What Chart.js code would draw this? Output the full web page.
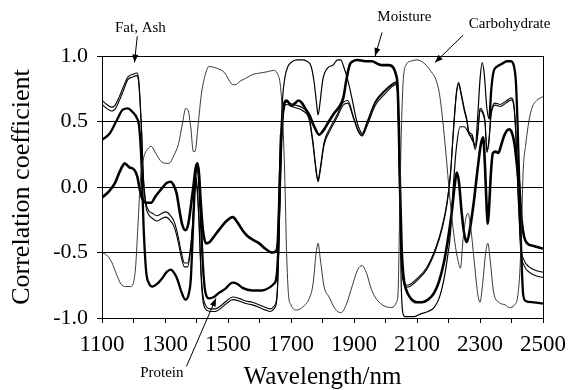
<!DOCTYPE html>
<html>
<head>
<meta charset="utf-8">
<script src="https://cdn.jsdelivr.net/npm/chart.js@4.4.1/dist/chart.umd.min.js"></script>
<style>
  html, body { margin: 0; padding: 0; background: #fff; }
  #wrap { width: 574px; height: 390px; position: relative; }
</style>
</head>
<body>
<div id="wrap"><canvas id="chart"></canvas></div>
<script>
// [wavelength nm, correlation coefficient]
const carbohydrate = [[1100,-0.50],[1115,-0.52],[1130,-0.57],[1145,-0.66],[1160,-0.74],[1175,-0.76],[1190,-0.76],[1200,-0.73],[1207,-0.6],[1214,-0.3],[1222,0.05],[1232,0.22],[1245,0.29],[1256,0.31],[1270,0.26],[1290,0.19],[1312,0.18],[1330,0.25],[1343,0.33],[1355,0.48],[1366,0.6],[1374,0.58],[1382,0.45],[1390,0.27],[1395,0.27],[1405,0.47],[1415,0.7],[1427,0.85],[1440,0.92],[1460,0.91],[1490,0.87],[1510,0.79],[1522,0.78],[1540,0.81],[1556,0.83],[1580,0.86],[1602,0.87],[1625,0.88],[1645,0.89],[1658,0.86],[1666,0.78],[1673,0.55],[1680,0.1],[1686,-0.5],[1692,-0.82],[1700,-0.9],[1717,-0.94],[1740,-0.91],[1758,-0.85],[1770,-0.74],[1780,-0.5],[1786,-0.43],[1793,-0.55],[1805,-0.76],[1821,-0.84],[1840,-0.93],[1858,-0.96],[1875,-0.9],[1895,-0.75],[1912,-0.63],[1926,-0.6],[1940,-0.66],[1955,-0.78],[1967,-0.84],[1990,-0.9],[2020,-0.92],[2035,-0.88],[2040,-0.8],[2045,-0.2],[2050,0.4],[2056,0.8],[2065,0.93],[2080,0.96],[2100,0.97],[2125,0.94],[2145,0.88],[2160,0.82],[2172,0.7],[2182,0.5],[2191,0.28],[2205,-0.1],[2220,-0.42],[2230,-0.56],[2238,-0.62],[2246,-0.4],[2255,-0.24],[2262,-0.2],[2270,-0.3],[2283,-0.6],[2293,-0.82],[2300,-0.88],[2308,-0.75],[2318,-0.5],[2325,-0.43],[2332,-0.55],[2343,-0.8],[2360,-0.88],[2380,-0.9],[2393,-0.92],[2410,-0.9],[2420,-0.83],[2427,-0.62],[2433,-0.2],[2437,0.12],[2445,0.32],[2455,0.5],[2466,0.61],[2480,0.66],[2500,0.69]]

const fat = [[1100,0.66],[1115,0.63],[1130,0.61],[1140,0.62],[1155,0.69],[1167,0.76],[1182,0.84],[1198,0.86],[1210,0.87],[1216,0.83],[1221,0.66],[1226,0.42],[1231,0.1],[1238,-0.1],[1248,-0.18],[1260,-0.2],[1275,-0.22],[1290,-0.2],[1303,-0.19],[1318,-0.22],[1330,-0.27],[1342,-0.38],[1352,-0.5],[1362,-0.58],[1372,-0.58],[1380,-0.48],[1387,-0.3],[1393,-0.05],[1398,0.08],[1402,0.0],[1408,-0.25],[1414,-0.62],[1420,-0.82],[1428,-0.9],[1443,-0.93],[1460,-0.93],[1475,-0.91],[1495,-0.87],[1515,-0.84],[1535,-0.85],[1556,-0.87],[1577,-0.88],[1600,-0.9],[1620,-0.92],[1635,-0.93],[1646,-0.91],[1655,-0.84],[1661,-0.48],[1665,0.0],[1670,0.4],[1678,0.62],[1686,0.65],[1707,0.63],[1739,0.6],[1758,0.53],[1770,0.34],[1780,0.13],[1786,0.05],[1792,0.13],[1805,0.34],[1826,0.46],[1848,0.56],[1864,0.64],[1880,0.66],[1899,0.53],[1914,0.43],[1926,0.4],[1942,0.49],[1967,0.64],[1998,0.73],[2023,0.78],[2032,0.79],[2038,0.74],[2042,0.41],[2045,0.03],[2050,-0.5],[2056,-0.7],[2066,-0.75],[2080,-0.74],[2100,-0.7],[2132,-0.61],[2160,-0.46],[2180,-0.3],[2195,-0.12],[2206,0.1],[2216,0.45],[2225,0.72],[2232,0.8],[2240,0.72],[2250,0.6],[2258,0.52],[2265,0.42],[2275,0.4],[2285,0.3],[2293,0.42],[2300,0.6],[2308,0.58],[2316,0.5],[2322,0.28],[2328,0.35],[2335,0.56],[2347,0.64],[2365,0.63],[2385,0.66],[2400,0.68],[2408,0.62],[2414,0.4],[2420,0.0],[2425,-0.25],[2430,-0.46],[2440,-0.56],[2456,-0.61],[2480,-0.64],[2500,-0.65]]

const ash = [[1100,0.63],[1115,0.6],[1130,0.58],[1140,0.59],[1155,0.66],[1167,0.73],[1182,0.82],[1198,0.84],[1210,0.85],[1216,0.81],[1221,0.64],[1226,0.4],[1231,0.08],[1238,-0.13],[1248,-0.21],[1260,-0.24],[1275,-0.26],[1290,-0.24],[1303,-0.23],[1318,-0.26],[1330,-0.31],[1342,-0.42],[1352,-0.54],[1362,-0.61],[1372,-0.61],[1380,-0.5],[1387,-0.32],[1393,-0.07],[1398,0.06],[1402,-0.02],[1408,-0.28],[1414,-0.66],[1420,-0.86],[1428,-0.93],[1443,-0.95],[1460,-0.95],[1475,-0.93],[1495,-0.89],[1515,-0.86],[1535,-0.87],[1556,-0.89],[1577,-0.9],[1600,-0.92],[1620,-0.94],[1635,-0.95],[1646,-0.93],[1655,-0.86],[1661,-0.5],[1665,-0.02],[1670,0.38],[1678,0.6],[1686,0.63],[1707,0.61],[1739,0.58],[1758,0.51],[1770,0.32],[1780,0.11],[1786,0.04],[1792,0.11],[1805,0.32],[1826,0.44],[1848,0.54],[1864,0.62],[1880,0.64],[1899,0.52],[1914,0.42],[1926,0.39],[1942,0.47],[1967,0.62],[1998,0.71],[2023,0.77],[2032,0.78],[2038,0.73],[2042,0.4],[2045,0.02],[2050,-0.51],[2056,-0.715],[2066,-0.765],[2080,-0.755],[2100,-0.715],[2132,-0.625],[2160,-0.475],[2180,-0.315],[2195,-0.135],[2206,0.085],[2216,0.435],[2225,0.705],[2232,0.785],[2240,0.705],[2250,0.585],[2258,0.505],[2265,0.405],[2275,0.385],[2285,0.285],[2293,0.405],[2300,0.585],[2308,0.565],[2316,0.485],[2322,0.265],[2328,0.335],[2335,0.545],[2347,0.625],[2365,0.615],[2385,0.645],[2400,0.665],[2408,0.605],[2414,0.385],[2420,-0.02],[2425,-0.28],[2430,-0.5],[2440,-0.6],[2456,-0.65],[2480,-0.68],[2500,-0.69]]

const protein = [[1100,0.36],[1125,0.41],[1147,0.51],[1166,0.59],[1182,0.6],[1198,0.57],[1210,0.53],[1218,0.46],[1225,0.2],[1232,-0.3],[1240,-0.64],[1250,-0.74],[1260,-0.76],[1275,-0.74],[1290,-0.7],[1305,-0.65],[1318,-0.63],[1330,-0.66],[1340,-0.71],[1352,-0.8],[1365,-0.86],[1375,-0.82],[1382,-0.7],[1390,-0.25],[1397,0.1],[1403,0.18],[1408,0.05],[1413,-0.2],[1420,-0.58],[1428,-0.8],[1440,-0.85],[1455,-0.84],[1470,-0.81],[1490,-0.78],[1515,-0.73],[1530,-0.74],[1546,-0.77],[1577,-0.79],[1608,-0.79],[1630,-0.77],[1645,-0.74],[1653,-0.7],[1659,-0.5],[1664,0.0],[1668,0.4],[1674,0.7],[1681,0.84],[1690,0.92],[1700,0.95],[1718,0.97],[1735,0.97],[1750,0.96],[1764,0.92],[1774,0.79],[1781,0.64],[1786,0.55],[1792,0.64],[1801,0.82],[1817,0.91],[1833,0.93],[1848,0.97],[1858,0.97],[1867,0.92],[1880,0.82],[1895,0.66],[1906,0.53],[1914,0.46],[1926,0.41],[1942,0.5],[1967,0.65],[1998,0.74],[2023,0.79],[2032,0.8],[2038,0.75],[2042,0.4],[2046,-0.2],[2050,-0.75],[2055,-0.96],[2062,-0.99],[2090,-0.99],[2110,-0.97],[2135,-0.95],[2154,-0.92],[2170,-0.85],[2185,-0.71],[2196,-0.55],[2206,-0.36],[2215,0.0],[2225,0.3],[2237,0.46],[2250,0.46],[2262,0.42],[2275,0.36],[2285,0.32],[2293,0.55],[2300,0.82],[2307,0.95],[2314,0.85],[2321,0.62],[2329,0.52],[2336,0.75],[2343,0.88],[2355,0.92],[2370,0.94],[2385,0.96],[2398,0.96],[2408,0.92],[2414,0.8],[2419,0.5],[2425,0.0],[2431,-0.5],[2437,-0.82],[2445,-0.87],[2470,-0.88],[2500,-0.89]]

const moisture = [[1100,-0.08],[1120,-0.04],[1141,0.03],[1155,0.11],[1165,0.16],[1172,0.18],[1187,0.15],[1203,0.13],[1212,0.08],[1220,-0.02],[1228,-0.09],[1240,-0.12],[1256,-0.12],[1270,-0.07],[1287,-0.02],[1305,0.03],[1318,0.04],[1328,0.01],[1337,-0.05],[1346,-0.18],[1355,-0.29],[1365,-0.33],[1374,-0.28],[1382,-0.15],[1390,0.0],[1397,0.14],[1403,0.18],[1408,0.1],[1413,-0.1],[1420,-0.32],[1430,-0.43],[1442,-0.42],[1458,-0.37],[1474,-0.32],[1495,-0.26],[1515,-0.23],[1530,-0.27],[1546,-0.33],[1560,-0.37],[1577,-0.4],[1599,-0.43],[1618,-0.47],[1640,-0.5],[1652,-0.49],[1658,-0.42],[1663,-0.1],[1668,0.3],[1675,0.58],[1686,0.66],[1701,0.62],[1713,0.64],[1724,0.66],[1735,0.64],[1745,0.6],[1758,0.55],[1774,0.46],[1789,0.4],[1805,0.44],[1820,0.5],[1836,0.56],[1855,0.62],[1866,0.68],[1876,0.82],[1886,0.93],[1897,0.96],[1910,0.97],[1936,0.96],[1957,0.96],[1975,0.94],[1989,0.93],[2010,0.93],[2025,0.91],[2033,0.86],[2038,0.78],[2042,0.5],[2046,0.0],[2051,-0.45],[2057,-0.68],[2065,-0.78],[2080,-0.85],[2100,-0.88],[2115,-0.88],[2135,-0.86],[2154,-0.81],[2170,-0.72],[2185,-0.58],[2197,-0.42],[2210,-0.2],[2220,0.02],[2226,0.11],[2233,0.04],[2242,-0.2],[2250,-0.36],[2258,-0.42],[2268,-0.32],[2280,-0.12],[2293,0.15],[2303,0.33],[2310,0.38],[2316,0.15],[2321,-0.15],[2325,-0.28],[2329,-0.15],[2335,0.12],[2341,0.26],[2350,0.27],[2358,0.26],[2366,0.31],[2375,0.38],[2385,0.43],[2393,0.44],[2402,0.41],[2410,0.32],[2418,0.15],[2425,0.0],[2432,-0.25],[2440,-0.38],[2450,-0.43],[2470,-0.45],[2500,-0.47]]

const yTicks = [-1.0, -0.5, 0.0, 0.5, 1.0]
const xLabels = [1100, 1300, 1500, 1700, 1900, 2100, 2300, 2500]

// label text, text anchor, arrow tail and arrow tip, all in data units
const notes = [
  { text: "Fat, Ash", at: [1222, 1.21], tail: [1212, 1.15], tip: [1203, 0.95] },
  { text: "Moisture", at: [2060, 1.30], tail: [1989, 1.18], tip: [1967, 1.0] },
  { text: "Carbohydrate", at: [2394, 1.24], tail: [2247, 1.16], tip: [2157, 0.95] },
  { text: "Protein", at: [1290, -1.42], tail: [1368, -1.37], tip: [1462, -0.85] }
]

const serif = "'Liberation Serif', 'Times New Roman', serif"

const toPoints = (rows) => rows.map(([x, y]) => ({ x, y }))

const line = (label, rows, width, color, extra = {}) => ({
  label,
  data: toPoints(rows),
  borderColor: color,
  borderWidth: width,
  pointRadius: 0,
  fill: false,
  cubicInterpolationMode: "monotone",
  ...extra
})

// the protein trace is printed thinner between its two jumps
const proteinWidth = (ctx) => (ctx.p0.parsed.x >= 1668 && ctx.p1.parsed.x <= 2332 ? 1.2 : 2.3)

const frameAndNotes = {
  id: "frameAndNotes",
  afterDraw(chart) {
    const { ctx, chartArea, scales } = chart
    const px = (p) => [scales.x.getPixelForValue(p[0]), scales.y.getPixelForValue(p[1])]
    ctx.save()
    ctx.strokeStyle = "#000"
    ctx.lineWidth = 1
    ctx.beginPath()
    ctx.moveTo(Math.round(chartArea.right) + 0.5, chartArea.top)
    ctx.lineTo(Math.round(chartArea.right) + 0.5, chartArea.bottom)
    ctx.stroke()

    ctx.fillStyle = "#000"
    ctx.font = "15px " + serif
    ctx.textAlign = "center"
    ctx.textBaseline = "middle"
    notes.forEach((n) => {
      const [tx, ty] = px(n.at)
      ctx.fillText(n.text, tx, ty)
      const [ax, ay] = px(n.tail)
      const [bx, by] = px(n.tip)
      ctx.beginPath()
      ctx.moveTo(ax, ay)
      ctx.lineTo(bx, by)
      ctx.stroke()
      const ang = Math.atan2(by - ay, bx - ax)
      ctx.beginPath()
      ctx.moveTo(bx, by)
      ctx.lineTo(bx - 8 * Math.cos(ang) + 3 * Math.sin(ang), by - 8 * Math.sin(ang) - 3 * Math.cos(ang))
      ctx.lineTo(bx - 8 * Math.cos(ang) - 3 * Math.sin(ang), by - 8 * Math.sin(ang) + 3 * Math.cos(ang))
      ctx.closePath()
      ctx.fill()
    })
    ctx.restore()
  }
}

new Chart(document.getElementById("chart"), {
  type: "line",
  data: {
    datasets: [
      line("Carbohydrate", carbohydrate, 0.9, "#222"),
      line("Fat", fat, 1.1, "#000"),
      line("Ash", ash, 1.1, "#000"),
      line("Protein", protein, 2.3, "#000", { segment: { borderWidth: proteinWidth } }),
      line("Moisture", moisture, 2.6, "#000")
    ]
  },
  options: {
    responsive: true,
    maintainAspectRatio: false,
    animation: false,
    devicePixelRatio: 1,
    layout: { padding: { left: 0, top: 56, right: 23, bottom: 0 } },
    plugins: {
      legend: { display: false },
      tooltip: { enabled: false }
    },
    scales: {
      x: {
        type: "linear",
        min: 1100,
        max: 2500,
        afterFit: (scale) => { scale.height = 72 },
        ticks: {
          stepSize: 100,
          autoSkip: false,
          maxRotation: 0,
          padding: 8,
          color: "#000",
          font: { family: serif, size: 23 },
          callback: (v) => (xLabels.includes(v) ? String(v) : "")
        },
        grid: { drawOnChartArea: false, tickLength: 5, color: "#000" },
        border: { color: "#000", width: 1 },
        title: {
          display: true,
          text: "Wavelength/nm",
          color: "#000",
          font: { family: serif, size: 25, lineHeight: 1 },
          padding: { top: 0, bottom: 0 }
        }
      },
      y: {
        min: -1,
        max: 1,
        afterFit: (scale) => { scale.width = 102 },
        afterBuildTicks: (scale) => { scale.ticks = yTicks.map((v) => ({ value: v })) },
        ticks: {
          padding: 9,
          color: "#000",
          font: { family: serif, size: 22 },
          callback: (v) => v.toFixed(1)
        },
        grid: { tickLength: 5, color: "#000", lineWidth: 1 },
        border: { color: "#000", width: 1 },
        title: {
          display: true,
          text: "Correlation coefficient",
          color: "#000",
          font: { family: serif, size: 26, lineHeight: 1 },
          padding: { top: 9, bottom: 0 }
        }
      }
    }
  },
  plugins: [frameAndNotes]
})
</script>
</body>
</html>
